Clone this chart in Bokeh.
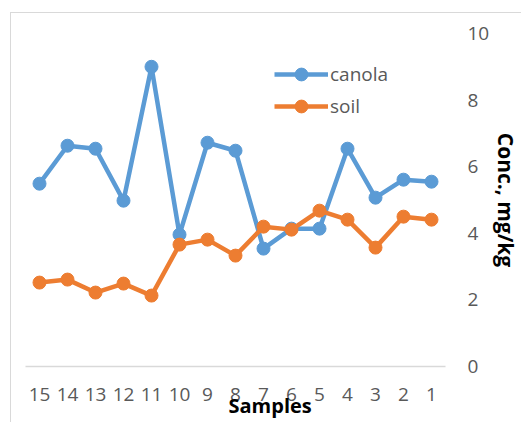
from bokeh.plotting import figure
from bokeh.models import FactorRange, Range1d, Legend, LegendItem, Title, ColumnDataSource
from bokeh.embed import file_html
from bokeh.resources import INLINE

samples = ["15", "14", "13", "12", "11", "10", "9", "8", "7", "6", "5", "4", "3", "2", "1"]
canola = [5.49, 6.63, 6.54, 4.98, 9.0, 3.96, 6.72, 6.48, 3.54, 4.14, 4.14, 6.54, 5.07, 5.61, 5.55]
soil = [2.52, 2.61, 2.22, 2.49, 2.13, 3.66, 3.81, 3.33, 4.2, 4.11, 4.68, 4.41, 3.57, 4.5, 4.41]
y_ticks = [0, 2, 4, 6, 8, 10]

BLUE = "#5B9BD5"
ORANGE = "#ED7D31"
GREY = "#595959"
FONT = "Open Sans"

src = ColumnDataSource(dict(x=samples, canola=canola, soil=soil))

p = figure(
    x_range=FactorRange(*samples, range_padding=0),
    y_range=Range1d(0, 10),
    frame_width=420, frame_height=333,
    y_axis_location="right",
    output_backend="svg", toolbar_location=None,
    min_border_left=14, min_border_right=0, min_border_top=20, min_border_bottom=56,
)
p.styles = {"border-left": "1px solid #d9d9d9", "border-top": "1px solid #d9d9d9",
            "margin-left": "10px", "margin-top": "12px"}
p.outline_line_color = None
p.xgrid.grid_line_color = None
p.ygrid.grid_line_color = None

lc = p.line("x", "canola", source=src, line_color=BLUE, line_width=4.5)
sc = p.scatter("x", "canola", source=src, size=13, fill_color=BLUE, line_color=BLUE)
ls = p.line("x", "soil", source=src, line_color=ORANGE, line_width=4.5)
ss = p.scatter("x", "soil", source=src, size=13, fill_color=ORANGE, line_color=ORANGE)

xa = p.xaxis[0]
xa.axis_line_color = "#d9d9d9"
xa.axis_line_width = 1.5
xa.major_tick_line_color = None
xa.minor_tick_line_color = None
xa.major_label_text_font = FONT
xa.major_label_text_font_size = "19px"
xa.major_label_text_color = GREY
xa.major_label_standoff = 15

ya = p.yaxis[0]
ya.ticker = y_ticks
ya.axis_line_color = None
ya.major_tick_line_color = None
ya.minor_tick_line_color = None
ya.major_label_text_font = FONT
ya.major_label_text_font_size = "19px"
ya.major_label_text_color = GREY
ya.major_label_standoff = 16
ya.axis_label = "Conc., mg/kg"
ya.axis_label_text_font = FONT
ya.axis_label_text_font_size = "21px"
ya.axis_label_text_font_style = "bold"
ya.axis_label_text_color = "black"
ya.axis_label_standoff = 0

p.add_layout(Title(text="Samples", align="left", vertical_align="top", offset=203, standoff=-24,
                   text_font=FONT, text_font_size="20px", text_font_style="bold",
                   text_color="black"), "below")

legend = Legend(items=[LegendItem(label="canola", renderers=[lc, sc]),
                       LegendItem(label="soil", renderers=[ls, ss])],
                location=(249, 244), glyph_width=54, glyph_height=32, label_height=32,
                spacing=-1, padding=0, margin=0, label_standoff=2,
                label_text_font=FONT, label_text_font_size="19px", label_text_color=GREY,
                border_line_color=None, background_fill_alpha=0)
p.add_layout(legend)

open("out.html", "w").write(file_html(p, INLINE))
